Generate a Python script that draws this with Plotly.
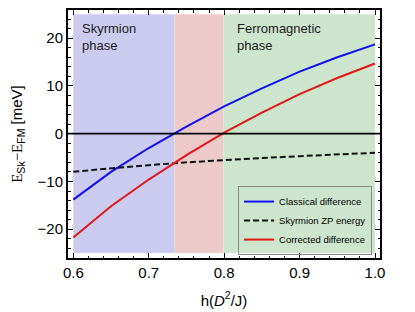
import plotly.graph_objects as go

h = [0.60, 0.65, 0.70, 0.75, 0.80, 0.85, 0.90, 0.95, 1.00]
classical = [-13.8, -8.0, -3.0, 1.5, 5.7, 9.5, 13.0, 16.0, 18.7]
zp_energy = [-7.95, -7.2, -6.6, -6.0, -5.5, -5.1, -4.7, -4.35, -4.0]
corrected = [-21.75, -15.2, -9.6, -4.5, 0.2, 4.4, 8.3, 11.65, 14.7]

regions = [(0.6, 0.734, "#cbcbef"), (0.734, 0.799, "#eccaca"), (0.799, 1.0, "#cde5cd")]
region_labels = [(0.609, "Skyrmion<br>phase"), (0.8145, "Ferromagnetic<br>phase")]

FONT = "Liberation Sans, Arial, sans-serif"

fig = go.Figure()
fig.add_trace(go.Scatter(x=h, y=classical, mode="lines", name="Classical difference",
                         line=dict(color="#1010f0", width=2)))
fig.add_trace(go.Scatter(x=h, y=zp_energy, mode="lines", name="Skyrmion ZP energy",
                         line=dict(color="#111111", width=2, dash="6px,3px")))
fig.add_trace(go.Scatter(x=h, y=corrected, mode="lines", name="Corrected difference",
                         line=dict(color="#e01818", width=2)))

for x0, x1, c in regions:
    fig.add_shape(type="rect", xref="x", yref="y", x0=x0, x1=x1, y0=-25, y1=25,
                  fillcolor=c, line_width=0, layer="below")
fig.add_shape(type="line", xref="paper", yref="y", x0=0, x1=1, y0=0, y1=0,
              line=dict(color="black", width=1.8))

for x, t in region_labels:
    fig.add_annotation(x=x, y=24.0, xref="x", yref="y", text=t, showarrow=False,
                       xanchor="left", yanchor="top", align="left",
                       font=dict(family=FONT, size=13, color="#222"))

axis_common = dict(showgrid=False, zeroline=False, showline=True, linecolor="black",
                   linewidth=2, mirror="allticks", ticks="inside", ticklen=5,
                   tickcolor="black", tickwidth=1, automargin=False,
                   tickfont=dict(family=FONT, size=15, color="black"))

fig.update_xaxes(range=[0.59297, 1.00663], tick0=0.6, dtick=0.1, tickformat=".1f",
                 minor=dict(dtick=0.02, ticks="inside", ticklen=2.5, tickcolor="black"),
                 title=dict(text="h(<i>D</i><sup>2</sup>/J)", font=dict(family=FONT, size=15, color="black")),
                 **axis_common)
fig.update_yaxes(range=[-26.03, 25.9], tick0=0, dtick=10,
                 minor=dict(dtick=2, ticks="inside", ticklen=2.5, tickcolor="black"),
                 title=dict(text="<span style='font-family:Liberation Serif'>E</span><sub>Sk</sub>"
                                 "<span style='font-family:Liberation Serif'>−E</span><sub>FM</sub> [meV]",
                            font=dict(family=FONT, size=15, color="black")),
                 **axis_common)

fig.update_layout(
    width=407, height=304,
    margin=dict(l=60, r=35, t=2, b=54),
    plot_bgcolor="white", paper_bgcolor="white",
    showlegend=True,
    legend=dict(x=0.545, y=0.29, xanchor="left", yanchor="top",
                bgcolor="rgba(0,0,0,0)", bordercolor="#888", borderwidth=1,
                font=dict(family=FONT, size=9.5, color="black"),
                tracegroupgap=0, itemwidth=30),
)

fig.write_html("out.html")
